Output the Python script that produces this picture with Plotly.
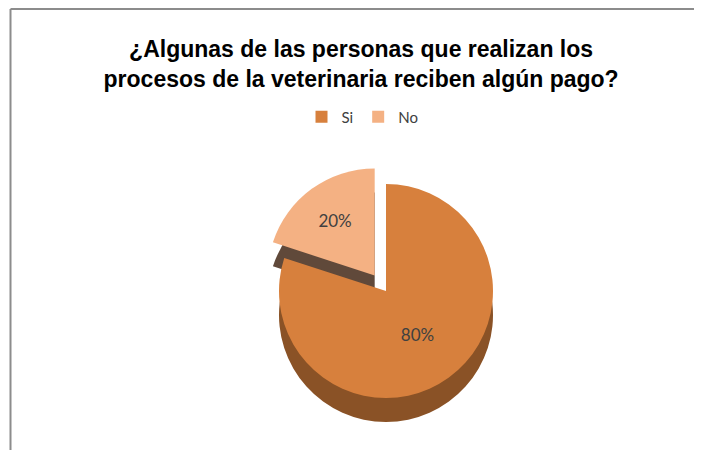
import plotly.graph_objects as go

# Data
categories = ["Si", "No"]
values = [80, 20]

top_colors = ["#D7803D", "#F4B183"]
side_colors = ["#8A5226", "#60493A"]
pulls = [0, 0.18]

W, H = 702, 450

def dom(cx, cy, half):
    return dict(x=[(cx - half) / W, (cx + half) / W],
                y=[1 - (cy + half) / H, 1 - (cy - half) / H])

R = 107
HALF = R * (1 + max(pulls))
CX, CY, DEPTH = 378, 283, 24

fig = go.Figure()

# depth layer (drawn first, offset downwards)
fig.add_trace(go.Pie(
    labels=categories, values=values, sort=False, direction="clockwise", rotation=0,
    pull=pulls, marker=dict(colors=side_colors, line=dict(width=0)),
    textinfo="none", hoverinfo="skip", showlegend=False,
    domain=dom(CX, CY + DEPTH, HALF),
))

# top surface
fig.add_trace(go.Pie(
    labels=categories, values=values, sort=False, direction="clockwise", rotation=0,
    pull=pulls, marker=dict(colors=top_colors, line=dict(width=0)),
    textinfo="percent", texttemplate="%{percent:.0%}", textposition="inside",
    insidetextorientation="horizontal",
    textfont=dict(family="Lato, Open Sans, sans-serif", size=17, color="#404040"),
    domain=dom(CX, CY, HALF),
))

fig.update_layout(
    width=W, height=H,
    margin=dict(l=0, r=0, t=0, b=0),
    paper_bgcolor="white", plot_bgcolor="white",
    title=dict(
        text="<b>¿Algunas de las personas que realizan los<br>procesos de la veterinaria reciben algún pago?</b>",
        x=0.503, xanchor="center", y=1 - 49 / H, yanchor="top",
        font=dict(family="Liberation Sans, Arial, sans-serif", size=23, color="#000000"),
    ),
    legend=dict(
        orientation="h", x=0.505, xanchor="center", y=1 - 109 / H, yanchor="middle",
        font=dict(family="Lato, Open Sans, sans-serif", size=15, color="#404040"),
        itemwidth=30, traceorder="normal",
    ),
    shapes=[
        dict(type="line", xref="paper", yref="paper", x0=2.5 / W, x1=2.5 / W,
             y0=-0.1, y1=1 - 1 / H, line=dict(color="#8C8C8C", width=2)),
        dict(type="line", xref="paper", yref="paper", x0=2.5 / W, x1=1.1,
             y0=1 - 1 / H, y1=1 - 1 / H, line=dict(color="#8C8C8C", width=2)),
    ],
)

fig.write_html("out.html")
